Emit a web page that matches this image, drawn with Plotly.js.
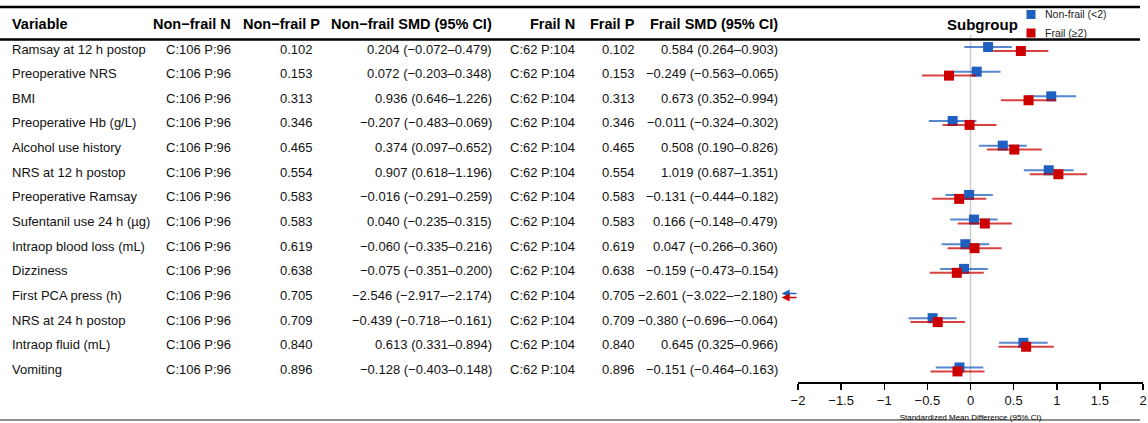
<!DOCTYPE html>
<html>
<head>
<meta charset="utf-8">
<script src="https://cdn.plot.ly/plotly-3.0.1.min.js"></script>
<style>html,body{margin:0;padding:0;background:#fff;}#chart{width:1148px;height:423px;}</style>
</head>
<body>
<div id="chart"></div>
<script>
// ---------------- data ----------------
const variables = ["Ramsay at 12 h postop","Preoperative NRS","BMI","Preoperative Hb (g/L)","Alcohol use history","NRS at 12 h postop","Preoperative Ramsay","Sufentanil use 24 h (\u00b5g)","Intraop blood loss (mL)","Dizziness","First PCA press (h)","NRS at 24 h postop","Intraop fluid (mL)","Vomiting"];
const nonfrailN = ["C:106 P:96","C:106 P:96","C:106 P:96","C:106 P:96","C:106 P:96","C:106 P:96","C:106 P:96","C:106 P:96","C:106 P:96","C:106 P:96","C:106 P:96","C:106 P:96","C:106 P:96","C:106 P:96"];
const frailN = ["C:62 P:104","C:62 P:104","C:62 P:104","C:62 P:104","C:62 P:104","C:62 P:104","C:62 P:104","C:62 P:104","C:62 P:104","C:62 P:104","C:62 P:104","C:62 P:104","C:62 P:104","C:62 P:104"];
const nonfrailP = ["0.102","0.153","0.313","0.346","0.465","0.554","0.583","0.583","0.619","0.638","0.705","0.709","0.840","0.896"];
const frailP = ["0.102","0.153","0.313","0.346","0.465","0.554","0.583","0.583","0.619","0.638","0.705","0.709","0.840","0.896"];
const nfEst = [0.204,0.072,0.936,-0.207,0.374,0.907,-0.016,0.040,-0.060,-0.075,-2.546,-0.439,0.613,-0.128];
const nfLo  = [-0.072,-0.203,0.646,-0.483,0.097,0.618,-0.291,-0.235,-0.335,-0.351,-2.917,-0.718,0.331,-0.403];
const nfHi  = [0.479,0.348,1.226,0.069,0.652,1.196,0.259,0.315,0.216,0.200,-2.174,-0.161,0.894,0.148];
const frEst = [0.584,-0.249,0.673,-0.011,0.508,1.019,-0.131,0.166,0.047,-0.159,-2.601,-0.380,0.645,-0.151];
const frLo  = [0.264,-0.563,0.352,-0.324,0.190,0.687,-0.444,-0.148,-0.266,-0.473,-3.022,-0.696,0.325,-0.464];
const frHi  = [0.903,0.065,0.994,0.302,0.826,1.351,0.182,0.479,0.360,0.154,-2.180,-0.064,0.966,0.163];
const headers = ["Variable","Non\u2212frail N","Non\u2212frail P","Non\u2212frail SMD (95% CI)","Frail N","Frail P","Frail SMD (95% CI)"];
const tickVals = [-2,-1.5,-1,-0.5,0,0.5,1,1.5,2];
const groupNames = ["Non-frail (<2)","Frail (\u22652)"];

// ---------------- styling ----------------
const W = 1148, H = 423;
const BLUE = "#1f5fbf", RED = "#cc0000";
const BLUE_L = "rgba(31,95,191,0.75)", RED_L = "rgba(204,0,0,0.75)";
const FONT = "Liberation Sans, Arial, sans-serif";
const XMIN = -2, XMAX = 2;
const rowPx0 = 49, rowStep = 24.65, axisPx = 382;
const px2row = p => (p - rowPx0) / rowStep;
const off = 0.08;

function fmt(v){ return v.toFixed(3).replace('-', '\u2212'); }
function ci(e,l,h){ return fmt(e) + " (" + fmt(l) + "\u2013" + fmt(h) + ")"; }

const rows = variables.map((_, i) => i);
const headRight = [null, 233, 322, 494, 577, 637, 780];
const colRight  = [null, 233, 315, 494, 577, 637, 780];

const annotations = [];
// header
headers.forEach((h, c) => {
  annotations.push({
    xref: 'paper', yref: 'y', x: c === 0 ? 10 / W : headRight[c] / W, y: px2row(24),
    xanchor: c === 0 ? 'left' : 'right', yanchor: 'middle', showarrow: false,
    text: '<b>' + h + '</b>', font: {family: FONT, size: 14.5, color: '#000'}
  });
});
annotations.push({
  xref: 'paper', yref: 'y', x: 1020 / W, y: px2row(24), xanchor: 'right', yanchor: 'middle',
  showarrow: false, text: '<b>Subgroup</b>', font: {family: FONT, size: 15, color: '#000'}
});
// legend (manual)
const legendCols = [BLUE, RED];
const legendPy = [14.5, 33];
const shapes = [];
groupNames.forEach((g, k) => {
  shapes.push({type: 'rect', xref: 'paper', yref: 'paper',
    x0: 1026.5 / W, x1: 1035.5 / W, y0: 1 - (legendPy[k] + 4.5) / H, y1: 1 - (legendPy[k] - 4.5) / H,
    fillcolor: legendCols[k], line: {width: 0}});
  annotations.push({xref: 'paper', yref: 'paper', x: 1043 / W, y: 1 - legendPy[k] / H,
    xanchor: 'left', yanchor: 'middle', showarrow: false, text: g,
    font: {family: FONT, size: 10.5, color: '#222'}});
});
// body
variables.forEach((v, i) => {
  const cells = [v, nonfrailN[i], nonfrailP[i], ci(nfEst[i], nfLo[i], nfHi[i]), frailN[i], frailP[i], ci(frEst[i], frLo[i], frHi[i])];
  cells.forEach((t, c) => {
    annotations.push({
      xref: 'paper', yref: 'y', x: c === 0 ? 10 / W : colRight[c] / W, y: i,
      xanchor: c === 0 ? 'left' : 'right', yanchor: 'middle', showarrow: false,
      text: t, font: {family: FONT, size: 13, color: '#111'}
    });
  });
});
// out-of-range arrows
function addArrows(est, col, dy){
  est.forEach((e, i) => {
    if (e < XMIN) {
      annotations.push({
        xref: 'x', yref: 'y', axref: 'x', ayref: 'y', x: XMIN - 0.19, y: i + dy, ax: XMIN, ay: i + dy,
        showarrow: true, arrowhead: 2, arrowsize: 1, arrowwidth: 1.6, arrowcolor: col, text: ''
      });
    }
  });
}
addArrows(nfEst, BLUE, -off);
addArrows(frEst, RED, off);

function trace(est, lo, hi, col, lcol, dy, name){
  const inR = est.map(e => e >= XMIN && e <= XMAX);
  return {
    type: 'scatter', mode: 'markers', name: name,
    x: est.map((e, i) => inR[i] ? e : null),
    y: rows.map(r => r + dy),
    marker: {symbol: 'square', size: 10, color: col},
    error_x: {type: 'data', symmetric: false,
      array: est.map((e, i) => hi[i] - e), arrayminus: est.map((e, i) => e - lo[i]),
      color: lcol, thickness: 2, width: 0},
    cliponaxis: true, hoverinfo: 'skip'
  };
}

const data = [
  trace(nfEst, nfLo, nfHi, BLUE, BLUE_L, -off, groupNames[0]),
  trace(frEst, frLo, frHi, RED, RED_L, off, groupNames[1])
];

shapes.push(
  {type: 'line', xref: 'paper', yref: 'paper', x0: 0, x1: 1140 / W, y0: 1 - 7 / H, y1: 1 - 7 / H, line: {color: '#000', width: 2.5}},
  {type: 'line', xref: 'paper', yref: 'paper', x0: 0, x1: 1140 / W, y0: 1 - 39.5 / H, y1: 1 - 39.5 / H, line: {color: '#000', width: 2.5}},
  {type: 'line', xref: 'paper', yref: 'paper', x0: 0, x1: 1140 / W, y0: 1 - 420 / H, y1: 1 - 420 / H, line: {color: '#222', width: 1.2}},
  {type: 'line', xref: 'x', yref: 'paper', x0: 0, x1: 0, y0: 1 - axisPx / H, y1: 1 - 35 / H, line: {color: '#cccccc', width: 1.5}, layer: 'below'}
);

const layout = {
  width: W, height: H, margin: {l: 0, r: 0, t: 0, b: 0},
  paper_bgcolor: '#fff', plot_bgcolor: 'rgba(0,0,0,0)',
  font: {family: FONT, color: '#000'},
  showlegend: false,
  xaxis: {domain: [798 / W, 1143 / W], range: [XMIN, XMAX], tickvals: tickVals,
    ticktext: tickVals.map(v => String(v).replace('-', '\u2212')),
    showline: true, linecolor: '#000', linewidth: 1.5, ticks: 'outside', ticklen: 6, tickwidth: 1.5, tickcolor: '#000',
    showgrid: false, zeroline: false, fixedrange: true,
    tickfont: {family: FONT, size: 13, color: '#111'},
    title: {text: 'Standardized Mean Difference (95% CI)', font: {family: FONT, size: 8, color: '#000'}, standoff: 7}},
  yaxis: {domain: [1 - axisPx / H, 1], range: [px2row(axisPx), px2row(0)], visible: false, fixedrange: true},
  annotations: annotations, shapes: shapes
};

Plotly.newPlot('chart', data, layout, {displayModeBar: false, staticPlot: true});
</script>
</body>
</html>
